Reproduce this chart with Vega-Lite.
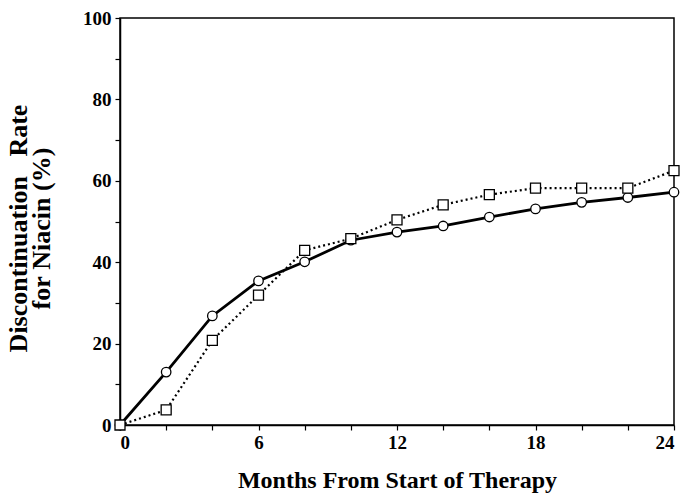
{
  "$schema": "https://vega.github.io/schema/vega-lite/v6.json",
  "autosize": "none",
  "padding": {"left": 120, "top": 18, "right": 11, "bottom": 74},
  "width": 554,
  "height": 407,
  "background": "white",
  "config": {
    "view": {"stroke": "black", "strokeWidth": 1.5},
    "font": "Liberation Serif",
    "axis": {
      "domainColor": "black",
      "domainWidth": 1.5,
      "tickColor": "black",
      "tickWidth": 1.2,
      "tickSize": 5,
      "grid": false,
      "labelFont": "Liberation Serif",
      "labelFontWeight": "bold",
      "labelFontSize": 19,
      "labelColor": "black",
      "titleFont": "Liberation Serif",
      "titleFontWeight": "bold",
      "titleFontSize": 24,
      "titleColor": "black"
    }
  },
  "data": {
    "values": [
      {"month": 0, "rate": 0, "series": "A"},
      {"month": 2, "rate": 13.0, "series": "A"},
      {"month": 4, "rate": 26.8, "series": "A"},
      {"month": 6, "rate": 35.4, "series": "A"},
      {"month": 8, "rate": 40.1, "series": "A"},
      {"month": 10, "rate": 45.4, "series": "A"},
      {"month": 12, "rate": 47.4, "series": "A"},
      {"month": 14, "rate": 48.9, "series": "A"},
      {"month": 16, "rate": 51.1, "series": "A"},
      {"month": 18, "rate": 53.1, "series": "A"},
      {"month": 20, "rate": 54.7, "series": "A"},
      {"month": 22, "rate": 55.9, "series": "A"},
      {"month": 24, "rate": 57.2, "series": "A"},
      {"month": 0, "rate": 0, "series": "B"},
      {"month": 2, "rate": 3.7, "series": "B"},
      {"month": 4, "rate": 20.8, "series": "B"},
      {"month": 6, "rate": 31.9, "series": "B"},
      {"month": 8, "rate": 42.9, "series": "B"},
      {"month": 10, "rate": 45.8, "series": "B"},
      {"month": 12, "rate": 50.4, "series": "B"},
      {"month": 14, "rate": 54.1, "series": "B"},
      {"month": 16, "rate": 56.6, "series": "B"},
      {"month": 18, "rate": 58.2, "series": "B"},
      {"month": 20, "rate": 58.2, "series": "B"},
      {"month": 22, "rate": 58.2, "series": "B"},
      {"month": 24, "rate": 62.5, "series": "B"}
    ]
  },
  "encoding": {
    "x": {
      "field": "month", "type": "quantitative",
      "scale": {"domain": [0, 24], "nice": false},
      "axis": {
        "values": [0, 2, 4, 6, 8, 10, 12, 14, 16, 18, 20, 22, 24],
        "labelExpr": "datum.value % 6 === 0 ? datum.label : ''",
        "labelPadding": 3,
        "title": "Months From Start of Therapy",
        "titlePadding": 16
      }
    },
    "y": {
      "field": "rate", "type": "quantitative",
      "scale": {"domain": [0, 100], "nice": false},
      "axis": {
        "values": [0, 10, 20, 30, 40, 50, 60, 70, 80, 90, 100],
        "labelExpr": "datum.value % 20 === 0 ? datum.label : ''",
        "labelPadding": 4,
        "title": ["Discontinuation\u00a0\u00a0\u00a0Rate", "for\u00a0Niacin\u00a0(%)"],
        "titleFontSize": 26,
        "titlePadding": 28,
        "titleLineHeight": 23,
        "titleY": 210
      }
    }
  },
  "layer": [
    {
      "transform": [{"filter": "datum.series === 'B'"}],
      "mark": {"type": "line", "color": "black", "strokeWidth": 2.2, "strokeDash": [2, 3]}
    },
    {
      "transform": [{"filter": "datum.series === 'A'"}],
      "mark": {"type": "line", "color": "black", "strokeWidth": 2.8}
    },
    {
      "transform": [{"filter": "datum.series === 'A'"}],
      "mark": {"type": "point", "shape": "circle", "size": 90, "filled": true, "fill": "white", "stroke": "black", "strokeWidth": 1.3, "opacity": 1}
    },
    {
      "transform": [{"filter": "datum.series === 'B'"}],
      "mark": {"type": "point", "shape": "square", "size": 100, "filled": true, "fill": "white", "stroke": "black", "strokeWidth": 1.3, "opacity": 1}
    }
  ]
}
